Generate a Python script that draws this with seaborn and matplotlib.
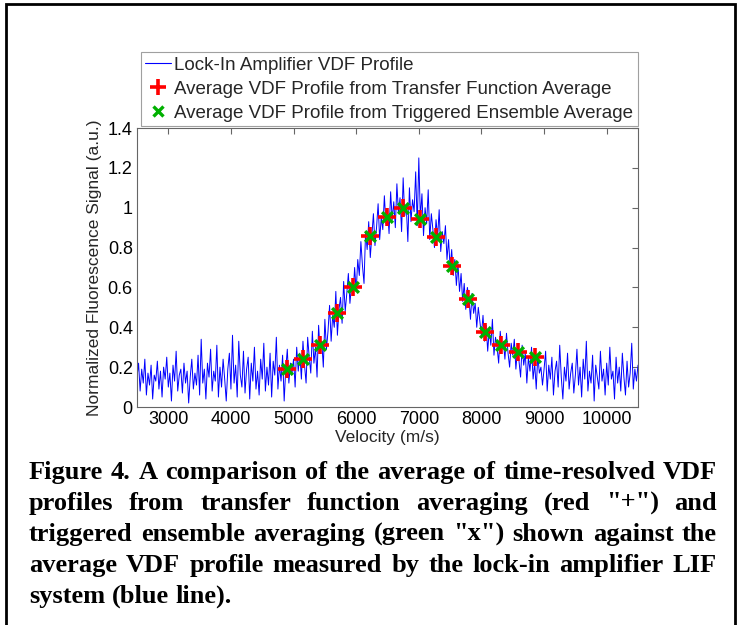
"""
Lock-in amplifier VDF profile vs. averaged time-resolved profiles.
"""

import matplotlib

matplotlib.use("Agg")
import matplotlib.pyplot as plt
import matplotlib.patches as mpatches
from matplotlib.lines import Line2D
from matplotlib.ticker import FixedLocator, FuncFormatter
import numpy as np
import seaborn as sns

# --- data ------------------------------------------------------------------
# lock-in trace, sampled every 25 m/s from 2500 to 10500 m/s
lockin_signal = [
    # 2500 - 2975
    0.15, 0.22, 0.08, 0.19, 0.12, 0.24, 0.06, 0.17, 0.11, 0.21,
    0.04, 0.16, 0.13, 0.23, 0.09, 0.18, 0.05, 0.20, 0.14, 0.25,
    # 3000 - 3475
    0.10, 0.17, 0.03, 0.21, 0.13, 0.28, 0.08, 0.16, 0.19, 0.07,
    0.22, 0.12, 0.18, 0.02, 0.15, 0.24, 0.09, 0.17, 0.11, 0.26,
    # 3500 - 3975
    0.06, 0.34, 0.12, 0.19, 0.04, 0.22, 0.15, 0.29, 0.08, 0.18,
    0.13, 0.31, 0.05, 0.20, 0.10, 0.24, 0.14, 0.03, 0.19, 0.27,
    # 4000 - 4475
    0.09, 0.36, 0.12, 0.21, 0.05, 0.33, 0.16, 0.10, 0.28, 0.07,
    0.19, 0.25, 0.04, 0.22, 0.13, 0.30, 0.09, 0.18, 0.06, 0.24,
    # 4500 - 4975
    0.14, 0.32, 0.08, 0.20, 0.11, 0.27, 0.05, 0.23, 0.16, 0.35,
    0.09, 0.21, 0.13, 0.26, 0.03, 0.19, 0.29, 0.12, 0.22, 0.17,
    # 5000 - 5475
    0.24, 0.10, 0.30, 0.18, 0.27, 0.14, 0.33, 0.21, 0.12, 0.35,
    0.25, 0.17, 0.38, 0.22, 0.30, 0.15, 0.41, 0.27, 0.33, 0.20,
    # 5500 - 5975
    0.44, 0.29, 0.38, 0.51, 0.33, 0.46, 0.40, 0.58, 0.36, 0.49,
    0.55, 0.42, 0.63, 0.48, 0.57, 0.67, 0.52, 0.61, 0.56, 0.70,
    # 6000 - 6475
    0.58, 0.74, 0.66, 0.83, 0.71, 0.62, 0.88, 0.79, 0.93, 0.75,
    0.86, 0.97, 0.81, 0.90, 1.02, 0.84, 0.95, 0.89, 1.06, 0.92,
    # 6500 - 6975
    0.99, 0.87, 1.08, 0.94, 1.03, 0.90, 1.12, 0.97, 1.05, 0.88,
    1.15, 0.96, 1.01, 0.83, 1.10, 0.93, 1.04, 0.98, 1.18, 0.91,
    # 7000 - 7475
    1.25, 0.95, 1.07, 0.86, 1.00, 0.92, 1.09, 0.84, 0.97, 0.89,
    0.80, 0.94, 0.85, 0.99, 0.78, 0.88, 0.82, 0.91, 0.74, 0.84,
    # 7500 - 7975
    0.70, 0.79, 0.66, 0.74, 0.61, 0.72, 0.58, 0.67, 0.53, 0.62,
    0.49, 0.60, 0.55, 0.44, 0.57, 0.47, 0.52, 0.40, 0.50, 0.43,
    # 8000 - 8475
    0.36, 0.46, 0.33, 0.41, 0.28, 0.39, 0.31, 0.44, 0.26, 0.35,
    0.30, 0.22, 0.38, 0.29, 0.33, 0.24, 0.37, 0.27, 0.20, 0.32,
    # 8500 - 8975
    0.26, 0.34, 0.19, 0.29, 0.23, 0.15, 0.31, 0.21, 0.27, 0.12,
    0.25, 0.18, 0.30, 0.14, 0.22, 0.09, 0.26, 0.17, 0.20, 0.11,
    # 9000 - 9475
    0.19, 0.28, 0.08, 0.21, 0.14, 0.25, 0.06, 0.18, 0.23, 0.10,
    0.31, 0.15, 0.04, 0.20, 0.13, 0.27, 0.09, 0.17, 0.22, 0.07,
    # 9500 - 9975
    0.16, 0.29, 0.11, 0.20, 0.05, 0.24, 0.14, 0.33, 0.08, 0.18,
    0.12, 0.26, 0.03, 0.21, 0.15, 0.09, 0.28, 0.13, 0.19, 0.06,
    # 10000 - 10500
    0.22, 0.11, 0.30, 0.14, 0.18, 0.04, 0.25, 0.12, 0.20, 0.08,
    0.27, 0.15, 0.06, 0.23, 0.10, 0.17, 0.32, 0.09, 0.19, 0.13,
    0.21,
]
lockin_velocity = np.linspace(2500, 10500, len(lockin_signal))

# averaged profiles (both methods land on the same points)
avg_velocity = [4900, 5155, 5420, 5690, 5950, 6220, 6490, 6750,
                7020, 7270, 7530, 7785, 8055, 8310, 8580, 8850]
transfer_avg = [0.19, 0.24, 0.31, 0.47, 0.60, 0.86, 0.955, 1.00,
                0.945, 0.855, 0.71, 0.54, 0.375, 0.31, 0.275, 0.25]
ensemble_avg = [0.19, 0.24, 0.31, 0.47, 0.60, 0.86, 0.955, 1.00,
                0.945, 0.855, 0.71, 0.54, 0.375, 0.31, 0.275, 0.25]

x_ticks = [3000, 4000, 5000, 6000, 7000, 8000, 9000, 10000]
y_ticks = [0, 0.2, 0.4, 0.6, 0.8, 1.0, 1.2, 1.4]

legend_labels = [
    "Lock-In Amplifier VDF Profile",
    "Average VDF Profile from Transfer Function Average",
    "Average VDF Profile from Triggered Ensemble Average",
]

caption_lines = [
    "Figure 4. A comparison of the average of time-resolved VDF",
    'profiles from transfer function averaging (red "+") and',
    'triggered ensemble averaging (green "x") shown against the',
    "average VDF profile measured by the lock-in amplifier LIF",
    "system (blue line).",
]

# --- style ------------------------------------------------------------------
sns.set_theme(style="white")
plt.rcParams["font.family"] = ["Liberation Sans", "DejaVu Sans"]
plt.rcParams["axes.edgecolor"] = "#666666"
plt.rcParams["axes.linewidth"] = 0.8

BLUE, RED, GREEN = "#0000ff", "#ff0000", "#00b000"

W, H = 742, 625
fig = plt.figure(figsize=(W / 100, H / 100), dpi=100)
ax = fig.add_axes([137 / W, 1 - 407 / H, 501 / W, 279 / H])

# --- plot -------------------------------------------------------------------
sns.lineplot(
    x=lockin_velocity, y=lockin_signal, ax=ax, color=BLUE,
    linewidth=0.7, sort=False, estimator=None,
)
sns.scatterplot(
    x=avg_velocity, y=transfer_avg, ax=ax, marker="+", s=150,
    color=RED, linewidth=2.6, zorder=3,
)
sns.scatterplot(
    x=avg_velocity, y=ensemble_avg, ax=ax, marker="x", s=60,
    color=GREEN, linewidth=2.4, zorder=4,
)

ax.set_xlim(2500, 10500)
ax.set_ylim(0, 1.4)
ax.xaxis.set_major_locator(FixedLocator(x_ticks))
ax.yaxis.set_major_locator(FixedLocator(y_ticks))
ax.yaxis.set_major_formatter(FuncFormatter(lambda v, p: f"{v:g}"))
ax.tick_params(direction="in", length=4, width=0.8, color="#666666",
               top=True, right=True, labelsize=13, pad=3, labelcolor="black")
ax.set_xlabel("Velocity (m/s)", fontsize=12.5, labelpad=1)
ax.set_ylabel("Normalized Fluorescence Signal (a.u.)", fontsize=12.5, labelpad=4)

handles = [
    Line2D([], [], color=BLUE, linewidth=0.8),
    Line2D([], [], color=RED, marker="+", linestyle="none",
           markersize=11, markeredgewidth=2.6),
    Line2D([], [], color=GREEN, marker="x", linestyle="none",
           markersize=7, markeredgewidth=2.4),
]
leg = ax.legend(
    handles, legend_labels,
    loc="lower right", bbox_to_anchor=(1.0, 1.006), borderaxespad=0,
    fontsize=13.5, frameon=True, fancybox=False, edgecolor="#888888",
    handlelength=1.35, handletextpad=0.2, labelspacing=0.36,
    borderpad=0.25,
)
leg.get_frame().set_linewidth(0.8)

# --- outer box and justified caption --------------------------------------
fig.patches.append(mpatches.Rectangle(
    (6 / W, -0.05), 729 / W, 1.05 - 4 / H, transform=fig.transFigure,
    fill=False, edgecolor="black", linewidth=2, clip_on=False,
))

fig.canvas.draw()
renderer = fig.canvas.get_renderer()
cap_font = dict(family=["Liberation Serif", "DejaVu Serif"],
                fontweight="bold", fontsize=19, color="black")


def text_width(s):
    t = fig.text(0, 0, s, **cap_font)
    w = t.get_window_extent(renderer).width
    t.remove()
    return w


space = text_width("a a") - 2 * text_width("a")
left_px, right_px = 29, 717
for i, line in enumerate(caption_lines):
    y = 1 - (479 + 31 * i) / H
    words = line.split(" ")
    widths = [text_width(w) for w in words]
    if i < len(caption_lines) - 1:
        gap = (right_px - left_px - sum(widths)) / (len(words) - 1)
    else:
        gap = space
    x = left_px
    for w, wd in zip(words, widths):
        fig.text(x / W, y, w, ha="left", va="baseline", **cap_font)
        x += wd + gap

fig.savefig("out.png", dpi=100)
